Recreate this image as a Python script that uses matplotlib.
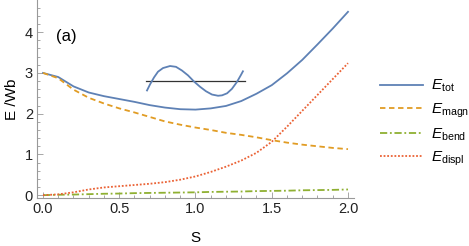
import numpy as np, matplotlib
matplotlib.use('Agg')
import matplotlib.pyplot as plt
from matplotlib.ticker import MultipleLocator

plt.rcParams['font.family'] = ['Liberation Sans', 'DejaVu Sans']
plt.rcParams['mathtext.fontset'] = 'custom'
plt.rcParams['mathtext.rm'] = 'Liberation Sans'
plt.rcParams['mathtext.it'] = 'Liberation Sans:italic'

# ---- data ----
S = [0.0, 0.1, 0.2, 0.3, 0.4, 0.5, 0.6, 0.7, 0.8, 0.9, 1.0,
     1.1, 1.2, 1.3, 1.4, 1.5, 1.6, 1.7, 1.8, 1.9, 2.0]
E_tot = [3.00, 2.90, 2.67, 2.52, 2.43, 2.36, 2.29, 2.21, 2.15, 2.11, 2.10,
         2.13, 2.19, 2.31, 2.49, 2.70, 2.99, 3.32, 3.70, 4.09, 4.50]
E_magn = [3.00, 2.87, 2.59, 2.39, 2.25, 2.13, 2.03, 1.92, 1.81, 1.73, 1.66,
          1.60, 1.53, 1.48, 1.42, 1.35, 1.29, 1.24, 1.20, 1.16, 1.13]
E_bend = [0.00, 0.01, 0.015, 0.025, 0.035, 0.04, 0.05, 0.055, 0.06, 0.065, 0.07,
          0.08, 0.085, 0.09, 0.10, 0.105, 0.11, 0.12, 0.125, 0.13, 0.14]
E_displ = [0.00, 0.02, 0.07, 0.14, 0.19, 0.22, 0.25, 0.28, 0.32, 0.38, 0.46,
           0.57, 0.70, 0.85, 1.04, 1.31, 1.68, 2.07, 2.46, 2.85, 3.24]

# small sketch of the rod shape (in data coords of the plot)
wave_x = [0.682, 0.702, 0.728, 0.754, 0.787, 0.833, 0.872, 0.911, 0.951, 0.990,
          1.030, 1.069, 1.108, 1.148, 1.174, 1.207, 1.239, 1.272, 1.298, 1.311]
wave_y = [2.57, 2.72, 2.89, 3.03, 3.12, 3.17, 3.15, 3.06, 2.94, 2.79,
          2.66, 2.55, 2.47, 2.44, 2.45, 2.50, 2.61, 2.78, 2.95, 3.04]
base_x = [0.675, 1.324]
base_y = [2.80, 2.80]

labels = [r'$E_{\mathrm{tot}}$', r'$E_{\mathrm{magn}}$',
          r'$E_{\mathrm{bend}}$', r'$E_{\mathrm{displ}}$']

# ---- figure ----
fig = plt.figure(figsize=(4.69, 2.46), dpi=100, facecolor='white')
ax = fig.add_axes([0.079, 0.195, 0.676, 0.805])

lw = 1.3
ax.plot(S, E_tot, color='#5E81B5', lw=lw, label=labels[0])
ax.plot(S, E_magn, color='#E19C24', lw=lw, dashes=(3, 2), label=labels[1])
ax.plot(S, E_bend, color='#8FB032', lw=lw, dashes=(4, 1.5, 1, 1.5), label=labels[2])
ax.plot(S, E_displ, color='#EB6235', lw=lw, dashes=(1, 1), label=labels[3])

ax.plot(base_x, base_y, color='#333333', lw=0.9)
ax.plot(wave_x, wave_y, color='#5E81B5', lw=1.3)

ax.text(0.155, 3.9, '(a)', fontsize=12, ha='center', va='center')

ax.set_xlim(-0.039, 2.04)
ax.set_ylim(-0.07, 4.79)
ax.xaxis.set_major_locator(MultipleLocator(0.5))
ax.xaxis.set_minor_locator(MultipleLocator(0.1))
ax.yaxis.set_major_locator(MultipleLocator(1))
ax.yaxis.set_minor_locator(MultipleLocator(0.2))
ax.xaxis.set_major_formatter(matplotlib.ticker.FormatStrFormatter('%.1f'))

for side in ['top', 'right']:
    ax.spines[side].set_visible(False)
for side in ['left', 'bottom']:
    ax.spines[side].set_color('#999999')
    ax.spines[side].set_linewidth(0.8)
ax.tick_params(which='both', direction='in', color='#999999', labelsize=10.5,
               labelcolor='#222222', width=0.6)
ax.tick_params(which='major', length=4, pad=3)
ax.tick_params(which='minor', length=2.2)

ax.set_xlabel('S', fontsize=11, labelpad=11)
ax.set_ylabel('E /Wb', fontsize=11, labelpad=4)

fig.legend(loc='center left', bbox_to_anchor=(0.795, 0.5), frameon=False,
           fontsize=11, handlelength=2.8, handletextpad=0.5, labelspacing=0.45,
           borderpad=0)

plt.savefig('out.png', dpi=100, facecolor='white')
